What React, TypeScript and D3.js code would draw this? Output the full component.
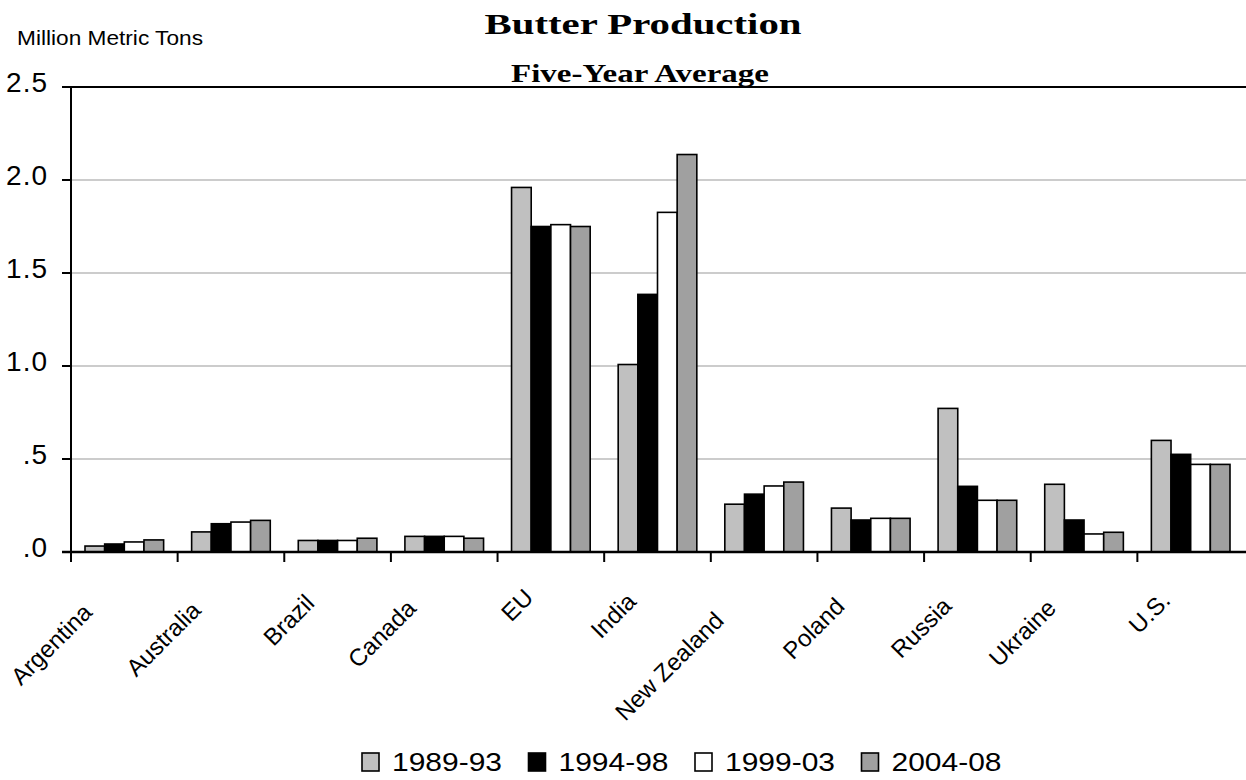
import { useEffect, useRef } from "react"
import * as d3 from "d3"

const categories = ["Argentina", "Australia", "Brazil", "Canada", "EU", "India", "New Zealand", "Poland", "Russia", "Ukraine", "U.S."]
const seriesNames = ["1989-93", "1994-98", "1999-03", "2004-08"]
const values8993 = [0.032, 0.108, 0.062, 0.084, 1.96, 1.008, 0.257, 0.236, 0.772, 0.364, 0.6]
const values9498 = [0.043, 0.152, 0.062, 0.084, 1.75, 1.385, 0.311, 0.172, 0.353, 0.172, 0.525]
const values9903 = [0.054, 0.161, 0.062, 0.084, 1.76, 1.826, 0.355, 0.181, 0.278, 0.097, 0.471]
const values0408 = [0.065, 0.17, 0.074, 0.074, 1.75, 2.137, 0.376, 0.181, 0.278, 0.106, 0.471]
const yTicks = [0, 0.5, 1, 1.5, 2, 2.5]
const yTickLabels = [".0", ".5", "1.0", "1.5", "2.0", "2.5"]

const seriesValues = [values8993, values9498, values9903, values0408]
const colors = ["#c0c0c0", "#000000", "#ffffff", "#a0a0a0"]

export default function App() {
    const svgRef = useRef(null)

    useEffect(() => {
        const width = 1246
        const height = 780
        const margin = { top: 87, right: 2, bottom: 228, left: 71 }

        const svg = d3.select(svgRef.current)
        svg.selectAll("*").remove()
        svg.attr("width", width).attr("height", height)

        const x0 = d3
            .scaleBand()
            .domain(categories)
            .range([margin.left, width - margin.right])
            .padding(0)

        const x1 = d3
            .scaleBand()
            .domain(seriesNames)
            .range([14, x0.bandwidth() - 14])
            .padding(0)

        const y = d3
            .scaleLinear()
            .domain([0, 2.5])
            .range([height - margin.bottom, margin.top])

        const sans = "'Liberation Sans', Arial, sans-serif"
        const serif = "'Liberation Serif', 'Times New Roman', serif"

        // gridlines
        svg
            .append("g")
            .selectAll("line")
            .data(yTicks.filter((t) => t > 0 && t < 2.5))
            .enter()
            .append("line")
            .attr("x1", margin.left)
            .attr("x2", width)
            .attr("y1", (d) => y(d))
            .attr("y2", (d) => y(d))
            .attr("stroke", "#999999")
            .attr("stroke-width", 1)

        // top border
        svg
            .append("line")
            .attr("x1", margin.left - 9)
            .attr("x2", width)
            .attr("y1", y(2.5))
            .attr("y2", y(2.5))
            .attr("stroke", "#000")
            .attr("stroke-width", 2)

        // bars
        const rows = categories.map((c, i) => ({
            category: c,
            items: seriesNames.map((s, j) => ({ series: s, idx: j, value: seriesValues[j][i] })),
        }))

        const groups = svg
            .append("g")
            .selectAll("g")
            .data(rows)
            .enter()
            .append("g")
            .attr("transform", (d) => `translate(${x0(d.category)},0)`)

        groups
            .selectAll("rect")
            .data((d) => d.items)
            .enter()
            .append("rect")
            .attr("x", (d) => x1(d.series))
            .attr("y", (d) => y(d.value))
            .attr("width", x1.bandwidth())
            .attr("height", (d) => y(0) - y(d.value))
            .attr("fill", (d) => colors[d.idx])
            .attr("stroke", "#000")
            .attr("stroke-width", 1.6)

        // y axis
        svg
            .append("line")
            .attr("x1", margin.left)
            .attr("x2", margin.left)
            .attr("y1", y(2.5))
            .attr("y2", y(0))
            .attr("stroke", "#000")
            .attr("stroke-width", 2)

        svg
            .append("g")
            .selectAll("line")
            .data(yTicks)
            .enter()
            .append("line")
            .attr("x1", margin.left - 9)
            .attr("x2", margin.left)
            .attr("y1", (d) => y(d))
            .attr("y2", (d) => y(d))
            .attr("stroke", "#000")
            .attr("stroke-width", 2)

        svg
            .append("g")
            .selectAll("text")
            .data(yTicks)
            .enter()
            .append("text")
            .attr("x", 48)
            .attr("y", (d) => y(d) + 5)
            .attr("text-anchor", "end")
            .style("font-family", sans)
            .style("font-size", "28px")
            .style("letter-spacing", "1px")
            .text((d, i) => yTickLabels[i])

        // x axis
        svg
            .append("line")
            .attr("x1", margin.left - 9)
            .attr("x2", width)
            .attr("y1", y(0))
            .attr("y2", y(0))
            .attr("stroke", "#000")
            .attr("stroke-width", 2.5)

        svg
            .append("g")
            .selectAll("line")
            .data(categories)
            .enter()
            .append("line")
            .attr("x1", (d) => x0(d))
            .attr("x2", (d) => x0(d))
            .attr("y1", y(0))
            .attr("y2", y(0) + 10)
            .attr("stroke", "#000")
            .attr("stroke-width", 2)

        // rotated category labels; longer labels slide a bit down-left like Excel does
        svg
            .append("g")
            .selectAll("text")
            .data(categories)
            .enter()
            .append("text")
            .attr("transform", (d) => `translate(${x0(d) + x0.bandwidth() / 2 - 9},${y(0) + 40}) rotate(-45)`)
            .attr("text-anchor", "end")
            .style("font-family", sans)
            .style("font-size", "24px")
            .text((d) => d)
            .attr("x", function () {
                return -0.3 * this.getComputedTextLength()
            })

        // titles
        svg
            .append("text")
            .attr("x", 643)
            .attr("y", 34)
            .attr("text-anchor", "middle")
            .attr("textLength", 317)
            .attr("lengthAdjust", "spacingAndGlyphs")
            .style("font-family", serif)
            .style("font-weight", "bold")
            .style("font-size", "29px")
            .text("Butter Production")

        svg
            .append("text")
            .attr("x", 640)
            .attr("y", 82)
            .attr("text-anchor", "middle")
            .attr("textLength", 258)
            .attr("lengthAdjust", "spacingAndGlyphs")
            .style("font-family", serif)
            .style("font-weight", "bold")
            .style("font-size", "26px")
            .text("Five-Year Average")

        svg
            .append("text")
            .attr("x", 17)
            .attr("y", 45)
            .attr("textLength", 186)
            .attr("lengthAdjust", "spacingAndGlyphs")
            .style("font-family", sans)
            .style("font-size", "21px")
            .text("Million Metric Tons")

        // legend
        const legend = svg
            .append("g")
            .selectAll("g")
            .data(seriesNames)
            .enter()
            .append("g")
            .attr("transform", (d, i) => `translate(${362 + i * 166.5},753)`)

        legend
            .append("rect")
            .attr("width", 17)
            .attr("height", 18)
            .attr("fill", (d, i) => colors[i])
            .attr("stroke", "#000")
            .attr("stroke-width", 1.6)

        legend
            .append("text")
            .attr("x", 30)
            .attr("y", 18)
            .attr("textLength", 110)
            .attr("lengthAdjust", "spacingAndGlyphs")
            .style("font-family", sans)
            .style("font-size", "26px")
            .text((d) => d)
    }, [])

    return (
        <div style={{ position: "absolute", left: 0, top: 0 }}>
            <svg ref={svgRef} style={{ display: "block" }}></svg>
        </div>
    )
}
